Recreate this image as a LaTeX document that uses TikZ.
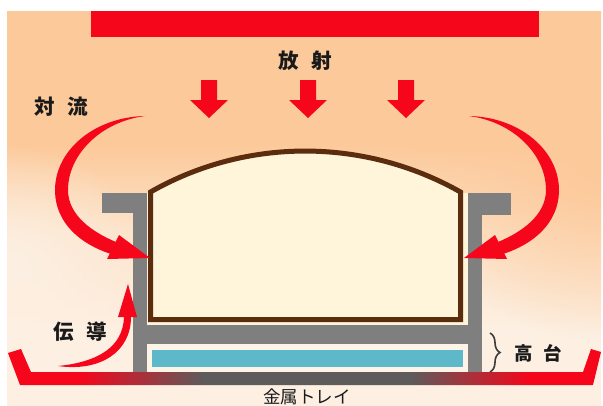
\documentclass[tikz,border=0pt]{standalone}
\usepackage{fontspec}
\newfontfamily\jp{Noto Sans CJK JP}
\usetikzlibrary{decorations.pathreplacing,fadings}

\definecolor{bgpeach}{HTML}{FCC99A}
\definecolor{bgmid}{HTML}{FCE2C8}
\definecolor{bgcream}{HTML}{FDF0E3}
\definecolor{hotred}{HTML}{F5061B}
\definecolor{wallgray}{HTML}{7F7F7F}
\definecolor{traygray}{HTML}{5D5B5B}
\definecolor{food}{HTML}{FEF5DA}
\definecolor{crust}{HTML}{5B2D0E}
\definecolor{pad}{HTML}{5DB8C9}
\definecolor{padgap}{HTML}{FDF3E6}
\definecolor{ink}{HTML}{1A1A1A}

% warm backdrop: peach above, cream below
\pgfdeclareverticalshading{bgshade}{100bp}{color(0bp)=(bgcream); color(34bp)=(bgcream); color(47bp)=(bgmid); color(58bp)=(bgpeach); color(100bp)=(bgpeach)}
% metal tray: red ends, dark middle
\pgfdeclarehorizontalshading{trayshade}{100bp}{color(0bp)=(hotred); color(31bp)=(hotred); color(41.5bp)=(traygray); color(59bp)=(traygray); color(69bp)=(hotred); color(100bp)=(hotred)}
\tikzfading[name=softdisc, inner color=transparent!0, outer color=transparent!100]

\tikzset{
  lbl/.style={font=\jp\bfseries\fontsize{20.5}{20.5}\selectfont, text=ink, inner sep=0pt},
  downarrow/.style={fill=hotred},
  flow/.style={fill=hotred},
}

\begin{document}
\begin{tikzpicture}[x=1pt,y=-1pt]
\useasboundingbox (0,0) rectangle (603,405);

% background
\begin{scope}
  \clip (7,11) rectangle (601,405);
  \shade[shading=bgshade] (7,11) rectangle (601,405);
  \fill[bgpeach, path fading=softdisc] (601,170) ellipse [x radius=190, y radius=170];
  \fill[bgcream, path fading=softdisc] (7,265) ellipse [x radius=150, y radius=120];
\end{scope}

% heater bar
\fill[hotred] (91,11) rectangle (539,37);

\node[lbl] (rad) at (305,61) {放\hspace{0.6em}射};

% radiation arrows
\foreach \c/\n in {209/ra, 308/rb, 406/rc}{
  \fill[downarrow] (\c-8,80) -- (\c+8,80) -- (\c+8,100) -- (\c+19,100)
    -- (\c,118) -- (\c-19,100) -- (\c-8,100) -- cycle;
}

% container body
\fill[wallgray] (133,193) rectangle (482,372);
\fill[wallgray] (102,193) rectangle (147,213);
\fill[wallgray] (468,193) rectangle (511,215);
\fill[food] (147,193) rectangle (468,325);
\fill[padgap] (147,344) rectangle (468,372);
\fill[pad] (152,350) rectangle (463,367);

% food with domed top
\draw[crust, line width=5pt, fill=food, line join=miter]
  (150.5,319.5) -- (150.5,192) .. controls (246,137.4) and (364,137.4) .. (460.5,192)
  -- (460.5,319.5) -- cycle;

% metal tray
\shade[shading=trayshade] (8,353) -- (21,349) -- (31,372) -- (583,372) -- (591,349)
  -- (601,352) -- (593,385) -- (20,385) -- cycle;

% stand brace
\draw[ink!85, line width=1.6pt, decorate, decoration={brace, amplitude=10pt}]
  (490,333) -- (490,372);
\node[lbl, font=\jp\bfseries\fontsize{18.5}{18.5}\selectfont, anchor=west] (stand) at (514,353) {高\hspace{0.6em}台};

% convection, left and mirrored right
\foreach \sh/\xs in {0/1, 614/-1}{
  \begin{scope}[shift={(\sh,0)}, xscale=\xs]
    \fill[flow] (145,116) .. controls (95,117) and (54,150) .. (55,192)
      .. controls (56,223) and (80,244) .. (111,254) -- (116,242)
      .. controls (92,232) and (68,215) .. (68,190)
      .. controls (68,155) and (100,122) .. (145,116) -- cycle;
    \fill[flow] (150,258) -- (107,259) -- (119,235) -- cycle;
  \end{scope}
}
\node[lbl] (conv) at (61,107) {対\hspace{0.6em}流};

% conduction
\fill[flow] (58,366) .. controls (100,372) and (131,352) .. (131,317)
  -- (124,317) .. controls (123,347) and (98,362) .. (58,366) -- cycle;
\fill[flow] (128,284) -- (137,317) -- (118,317) -- cycle;
\node[lbl] (cond) at (80,332) {伝\hspace{0.6em}導};

\node[font=\jp\fontsize{17.5}{17.5}\selectfont, text=ink, inner sep=0pt] (tray) at (307,397) {金属トレイ};
\end{tikzpicture}
\end{document}
